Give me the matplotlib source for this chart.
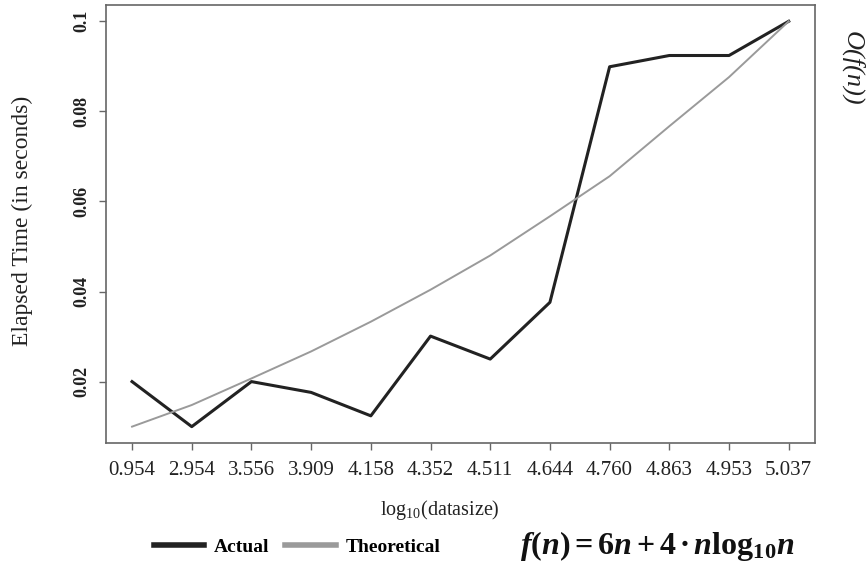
import matplotlib.pyplot as plt

# datos
etiquetas_x = ['0.954', '2.954', '3.556', '3.909', '4.158', '4.352',
               '4.511', '4.644', '4.760', '4.863', '4.953', '5.037']
actual = [0.020, 0.010, 0.020, 0.0176, 0.0124, 0.0301,
          0.025, 0.0376, 0.0899, 0.0924, 0.0924, 0.100]
teorico = [0.0100, 0.0148, 0.0207, 0.0267, 0.0333, 0.0404,
           0.0480, 0.0567, 0.0656, 0.0767, 0.0876, 0.100]
ticks_y = [0.02, 0.04, 0.06, 0.08, 0.1]

plt.rcParams['font.family'] = ['Liberation Serif', 'DejaVu Serif']
plt.rcParams['mathtext.fontset'] = 'custom'
plt.rcParams['mathtext.rm'] = 'Liberation Serif:bold'
plt.rcParams['mathtext.it'] = 'Liberation Serif:italic:bold'
plt.rcParams['mathtext.bf'] = 'Liberation Serif:bold'

fig = plt.figure(figsize=(8.67, 5.62), dpi=100)
ax = fig.add_axes([0.122, 0.212, 0.818, 0.779])

pos = list(range(len(etiquetas_x)))
l1, = ax.plot(pos, actual, color='#222222', linewidth=2.2, label='Actual')
l2, = ax.plot(pos, teorico, color='#9a9a9a', linewidth=1.4, label='Theoretical')

ax.set_xlim(-0.44, 11.44)
ax.set_ylim(0.0064, 0.1036)
ax.set_xticks(pos)
ax.set_xticklabels(etiquetas_x, fontsize=15)
ax.set_yticks(ticks_y)
ax.set_yticklabels(['0.02', '0.04', '0.06', '0.08', '0.1'], fontsize=13,
                   fontweight='bold', rotation=90, va='center')

for s in ax.spines.values():
    s.set_color('#666666')
    s.set_linewidth(1.2)
ax.tick_params(colors='#666666', length=5, width=1.0, labelcolor='#222222')
ax.tick_params(axis='x', pad=8)
ax.tick_params(axis='y', pad=6)

# titulos de ejes
fig.text(22 / 867, 1 - 221 / 562, 'Elapsed Time (in seconds)', fontsize=17,
         rotation=90, ha='center', va='center', color='#222222')
fig.text(440 / 867, 1 - 510 / 562, r'$\mathregular{log_{10}(datasize)}$',
         fontsize=14.5, ha='center', va='center', color='#222222')

fig.legend(handles=[l1, l2], loc='center', bbox_to_anchor=(297 / 867, 1 - 547 / 562),
           ncol=2, frameon=False, handlelength=2.6, columnspacing=0.8,
           handletextpad=0.5, prop={'weight': 'bold', 'size': 14})
for h in fig.legends[0].get_lines():
    h.set_linewidth(4)

fig.text(520 / 867, 1 - 546 / 562, r'$f(n) = 6n + 4\bullet n\mathrm{log}_{10}n$',
         fontsize=23, ha='left', va='center', color='#111111')

fig.text(852 / 867, 1 - 68 / 562, 'O(f(n))', fontsize=19, style='italic',
         rotation=-90, ha='center', va='center', color='#222222')

fig.savefig('out.png', dpi=100)
